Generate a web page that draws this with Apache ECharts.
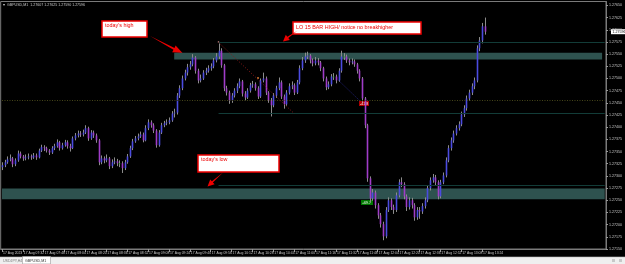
<!DOCTYPE html>
<html><head><meta charset="utf-8">
<script src="https://cdn.jsdelivr.net/npm/echarts@6/dist/echarts.min.js"></script>
<style>html,body{margin:0;padding:0;background:#000;}#c{width:625px;height:264px;}</style>
</head><body><div id="c"></div>
<script>
// ---- data (GBPUSD, M1 chart shown as 2-minute candles) ----
const symbolTitle = 'GBPUSD,M1';
const xTickLabels = ['17 Aug 2023','17 Aug 07:32','17 Aug 07:48','17 Aug 08:04','17 Aug 08:20','17 Aug 08:36','17 Aug 08:52','17 Aug 09:08','17 Aug 09:24','17 Aug 09:40','17 Aug 09:56','17 Aug 10:12','17 Aug 10:28','17 Aug 10:44','17 Aug 11:00','17 Aug 11:16','17 Aug 11:32','17 Aug 11:48','17 Aug 12:04','17 Aug 12:20','17 Aug 12:36','17 Aug 12:52','17 Aug 13:08','17 Aug 13:24'];
const opens = [1.27318,
1.27322,1.27328,1.27334,1.27336,1.27324,1.27332,1.27346,1.27340,1.27336,1.27338,
1.27340,1.27338,1.27342,1.27338,1.27352,1.27359,1.27357,1.27352,1.27348,1.27357,
1.27361,1.27369,1.27357,1.27363,1.27369,1.27361,1.27357,1.27377,1.27383,1.27387,
1.27385,1.27389,1.27398,1.27377,1.27389,1.27383,1.27373,1.27328,1.27336,1.27332,
1.27336,1.27320,1.27328,1.27330,1.27326,1.27326,1.27316,1.27328,1.27340,1.27357,
1.27371,1.27377,1.27381,1.27385,1.27373,1.27398,1.27410,1.27404,1.27393,1.27363,
1.27389,1.27404,1.27408,1.27410,1.27414,1.27428,1.27430,1.27465,1.27480,1.27500,
1.27512,1.27523,1.27529,1.27543,1.27516,1.27496,1.27500,1.27512,1.27516,1.27521,
1.27525,1.27537,1.27545,1.27557,1.27527,1.27480,1.27471,1.27455,1.27465,1.27475,
1.27484,1.27494,1.27469,1.27461,1.27475,1.27486,1.27488,1.27480,1.27463,1.27496,
1.27500,1.27471,1.27455,1.27445,1.27465,1.27480,1.27492,1.27463,1.27447,1.27471,
1.27484,1.27486,1.27471,1.27492,1.27521,1.27537,1.27545,1.27547,1.27537,1.27531,
1.27537,1.27533,1.27521,1.27500,1.27482,1.27488,1.27504,1.27504,1.27496,1.27516,
1.27545,1.27545,1.27537,1.27533,1.27535,1.27529,1.27516,1.27500,1.27459,1.27404,
1.27295,1.27254,1.27266,1.27240,1.27219,1.27201,1.27176,1.27230,1.27250,1.27236,
1.27230,1.27260,1.27287,1.27283,1.27258,1.27236,1.27250,1.27240,1.27215,1.27230,
1.27227,1.27238,1.27250,1.27275,1.27291,1.27297,1.27287,1.27258,1.27287,1.27301,
1.27332,1.27357,1.27373,1.27387,1.27398,1.27406,1.27426,1.27439,1.27459,1.27471,
1.27484,1.27496,1.27562,1.27578,1.27607];
const closes = [
1.27322,1.27328,1.27334,1.27336,1.27324,1.27332,1.27346,1.27340,1.27336,1.27338,
1.27340,1.27338,1.27342,1.27338,1.27352,1.27359,1.27357,1.27352,1.27348,1.27357,
1.27361,1.27369,1.27357,1.27363,1.27369,1.27361,1.27357,1.27377,1.27383,1.27387,
1.27385,1.27389,1.27398,1.27377,1.27389,1.27383,1.27373,1.27328,1.27336,1.27332,
1.27336,1.27320,1.27328,1.27330,1.27326,1.27326,1.27316,1.27328,1.27340,1.27357,
1.27371,1.27377,1.27381,1.27385,1.27373,1.27398,1.27410,1.27404,1.27393,1.27363,
1.27389,1.27404,1.27408,1.27410,1.27414,1.27428,1.27430,1.27465,1.27480,1.27500,
1.27512,1.27523,1.27529,1.27543,1.27516,1.27496,1.27500,1.27512,1.27516,1.27521,
1.27525,1.27537,1.27545,1.27557,1.27527,1.27480,1.27471,1.27455,1.27465,1.27475,
1.27484,1.27494,1.27469,1.27461,1.27475,1.27486,1.27488,1.27480,1.27463,1.27496,
1.27500,1.27471,1.27455,1.27445,1.27465,1.27480,1.27492,1.27463,1.27447,1.27471,
1.27484,1.27486,1.27471,1.27492,1.27521,1.27537,1.27545,1.27547,1.27537,1.27531,
1.27537,1.27533,1.27521,1.27500,1.27482,1.27488,1.27504,1.27504,1.27496,1.27516,
1.27545,1.27545,1.27537,1.27533,1.27535,1.27529,1.27516,1.27500,1.27459,1.27404,
1.27295,1.27254,1.27266,1.27240,1.27219,1.27201,1.27176,1.27230,1.27250,1.27236,
1.27230,1.27260,1.27287,1.27283,1.27258,1.27236,1.27250,1.27240,1.27215,1.27230,
1.27227,1.27238,1.27250,1.27275,1.27291,1.27297,1.27287,1.27258,1.27287,1.27301,
1.27332,1.27357,1.27373,1.27387,1.27398,1.27406,1.27426,1.27439,1.27459,1.27471,
1.27484,1.27496,1.27562,1.27578,1.27607,1.27596];
const highs = [
1.27328,1.27333,1.27340,1.27344,1.27339,1.27336,1.27352,1.27350,1.27343,1.27344,
1.27346,1.27344,1.27347,1.27346,1.27356,1.27364,1.27363,1.27360,1.27355,1.27361,
1.27366,1.27375,1.27372,1.27368,1.27374,1.27373,1.27366,1.27381,1.27388,1.27393,
1.27392,1.27395,1.27404,1.27401,1.27394,1.27393,1.27387,1.27376,1.27342,1.27340,
1.27344,1.27339,1.27334,1.27338,1.27335,1.27332,1.27330,1.27333,1.27345,1.27362,
1.27376,1.27382,1.27387,1.27391,1.27389,1.27404,1.27416,1.27414,1.27408,1.27396,
1.27394,1.27409,1.27413,1.27416,1.27420,1.27433,1.27438,1.27470,1.27486,1.27506,
1.27518,1.27530,1.27536,1.27550,1.27546,1.27520,1.27508,1.27517,1.27522,1.27527,
1.27531,1.27542,1.27552,1.27572,1.27562,1.27530,1.27485,1.27475,1.27470,1.27480,
1.27490,1.27500,1.27497,1.27474,1.27480,1.27491,1.27495,1.27492,1.27484,1.27500,
1.27512,1.27504,1.27474,1.27460,1.27470,1.27485,1.27502,1.27496,1.27467,1.27476,
1.27490,1.27494,1.27490,1.27497,1.27527,1.27544,1.27553,1.27555,1.27550,1.27541,
1.27544,1.27542,1.27536,1.27524,1.27504,1.27494,1.27509,1.27511,1.27508,1.27521,
1.27557,1.27552,1.27549,1.27541,1.27541,1.27539,1.27532,1.27519,1.27503,1.27462,
1.27407,1.27299,1.27273,1.27270,1.27244,1.27224,1.27206,1.27236,1.27256,1.27254,
1.27241,1.27266,1.27293,1.27297,1.27287,1.27262,1.27256,1.27255,1.27244,1.27236,
1.27236,1.27244,1.27256,1.27281,1.27297,1.27304,1.27302,1.27291,1.27292,1.27307,
1.27338,1.27363,1.27379,1.27393,1.27404,1.27412,1.27432,1.27445,1.27465,1.27477,
1.27490,1.27502,1.27568,1.27585,1.27614,1.27625];
const lows = [
1.27312,1.27318,1.27325,1.27330,1.27318,1.27320,1.27329,1.27336,1.27331,1.27332,
1.27334,1.27333,1.27335,1.27333,1.27336,1.27349,1.27351,1.27348,1.27343,1.27345,
1.27353,1.27358,1.27352,1.27354,1.27360,1.27356,1.27350,1.27355,1.27373,1.27379,
1.27380,1.27381,1.27386,1.27372,1.27374,1.27378,1.27368,1.27322,1.27324,1.27326,
1.27328,1.27314,1.27316,1.27324,1.27320,1.27318,1.27306,1.27312,1.27325,1.27337,
1.27353,1.27368,1.27373,1.27378,1.27369,1.27371,1.27394,1.27399,1.27388,1.27358,
1.27360,1.27386,1.27400,1.27404,1.27406,1.27411,1.27420,1.27426,1.27460,1.27476,
1.27496,1.27506,1.27518,1.27525,1.27510,1.27490,1.27492,1.27497,1.27507,1.27512,
1.27516,1.27521,1.27533,1.27540,1.27522,1.27474,1.27465,1.27448,1.27450,1.27461,
1.27470,1.27480,1.27463,1.27455,1.27458,1.27471,1.27481,1.27475,1.27458,1.27460,
1.27492,1.27466,1.27450,1.27422,1.27441,1.27460,1.27476,1.27458,1.27438,1.27444,
1.27467,1.27478,1.27466,1.27468,1.27488,1.27517,1.27532,1.27540,1.27531,1.27525,
1.27527,1.27527,1.27515,1.27494,1.27476,1.27478,1.27484,1.27497,1.27490,1.27493,
1.27512,1.27538,1.27532,1.27527,1.27529,1.27524,1.27510,1.27494,1.27452,1.27398,
1.27288,1.27246,1.27249,1.27233,1.27212,1.27194,1.27168,1.27172,1.27226,1.27230,
1.27222,1.27226,1.27256,1.27277,1.27252,1.27228,1.27231,1.27233,1.27208,1.27210,
1.27212,1.27222,1.27233,1.27246,1.27270,1.27286,1.27281,1.27252,1.27254,1.27283,
1.27297,1.27328,1.27352,1.27368,1.27383,1.27393,1.27402,1.27421,1.27434,1.27454,
1.27466,1.27478,1.27492,1.27556,1.27572,1.27590];
// levels drawn on the chart
const dayHighZone = [1.27539, 1.27553];
const dayLowZone = [1.27252, 1.27274];
const highLine = 1.27574;
const midLine = 1.27428;
const lowLine = 1.27281;
const dottedLevel = 1.27455;
const lastPrice = 1.27596;

// ---- axis categories: 2-minute slots from 07:16, with empty room on the right ----
const totalSlots = 232;
const categories = [];
for (let k = 0; k < totalSlots; k++) {
  const m = 7 * 60 + 16 + 2 * k;
  categories.push(String(Math.floor(m / 60)).padStart(2, '0') + ':' + String(m % 60).padStart(2, '0'));
}
const candleData = closes.map((c, i) => [i, opens[i], c, lows[i], highs[i]]);

const FONT = '"Liberation Sans", Arial, sans-serif';
const chart = echarts.init(document.getElementById('c'), null, {renderer: 'canvas'});
const labelIdx = (idx) => idx % 8 === 0 && idx / 8 < xTickLabels.length;

const option = {
  backgroundColor: '#000',
  animation: false,
  grid: {left: 0.5, right: 15, top: 1.5, bottom: 15, show: true, borderColor: '#7a7a7a', borderWidth: 1, backgroundColor: '#000'},
  xAxis: {
    type: 'category', data: categories, boundaryGap: true,
    axisLine: {show: true, lineStyle: {color: '#7a7a7a'}},
    axisTick: {show: true, interval: (i) => labelIdx(i), alignWithLabel: true, length: 3, lineStyle: {color: '#9a9a9a'}},
    axisLabel: {interval: (i) => labelIdx(i), formatter: (v, i) => labelIdx(i) ? xTickLabels[i / 8] : '',
      align: 'left', margin: 2.5, fontSize: 3.4, color: '#c8c8c8', fontFamily: FONT, padding: [0, 0, 0, 1]},
    splitLine: {show: false}
  },
  yAxis: {
    type: 'value', position: 'right', min: 1.2715, max: 1.27658, interval: 0.00025, scale: true,
    axisLine: {show: true, lineStyle: {color: '#7a7a7a'}},
    axisTick: {show: true, length: 2, lineStyle: {color: '#9a9a9a'}},
    axisLabel: {formatter: (v) => v.toFixed(5), fontSize: 3.6, color: '#c8c8c8', margin: 3, fontFamily: FONT, showMaxLabel: false},
    splitLine: {show: false}
  },
  series: [
    {
      type: 'line', name: 'levels', data: [], z: 1, silent: true,
      markArea: {
        silent: true,
        itemStyle: {color: '#2e524f', opacity: 1},
        data: [
          [{xAxis: categories[66], yAxis: dayHighZone[1]}, {xAxis: categories[230], yAxis: dayHighZone[0]}],
          [{xAxis: categories[0], yAxis: dayLowZone[1]}, {xAxis: categories[231], yAxis: dayLowZone[0]}]
        ]
      },
      markLine: {
        silent: true, symbol: ['none', 'none'], label: {show: false},
        data: [
          [{coord: [categories[83], highLine], lineStyle: {color: '#123c38', width: 1, type: 'solid'}}, {coord: [categories[231], highLine]}],
          [{coord: [categories[83], midLine], lineStyle: {color: '#123c38', width: 1, type: 'solid'}}, {coord: [categories[231], midLine]}],
          [{coord: [categories[83], lowLine], lineStyle: {color: '#123c38', width: 1, type: 'solid'}}, {coord: [categories[231], lowLine]}],
          [{coord: [categories[0], dottedLevel], lineStyle: {color: '#46461a', width: 1, type: [1, 1.5]}}, {coord: [categories[231], dottedLevel]}],
          [{coord: [categories[83], highLine], lineStyle: {color: '#8a1a1a', width: 1, type: [1, 1.8]}}, {coord: [categories[112], midLine]}],
          [{coord: [categories[129], 1.27496], lineStyle: {color: '#2a2a9a', width: 1, type: [1, 1.8]}}, {coord: [categories[137], dottedLevel]}]
        ]
      }
    },
    {
      type: 'custom', name: symbolTitle, z: 3, data: candleData,
      encode: {x: 0, y: [1, 2, 3, 4]},
      renderItem: (params, api) => {
        const i = api.value(0), o = api.value(1), c = api.value(2), l = api.value(3), h = api.value(4);
        const pO = api.coord([i, o]), pC = api.coord([i, c]), pL = api.coord([i, l]), pH = api.coord([i, h]);
        const x = Math.round(pO[0]) + 0.5;
        const top = Math.min(pO[1], pC[1]), bot = Math.max(pO[1], pC[1]);
        const fill = c > o ? '#4b4be0' : (c < o ? '#a03cc8' : '#2a9a2a');
        return {type: 'group', children: [
          {type: 'line', shape: {x1: x, y1: pH[1], x2: x, y2: pL[1]}, style: {stroke: '#8c8c8c', lineWidth: 1}},
          {type: 'rect', shape: {x: x - 0.8, y: top, width: 1.6, height: Math.max(bot - top, 0.9)}, style: {fill: fill}}
        ]};
      }
    }
  ]
};
chart.setOption(option);

// annotations (objects drawn by the trader on the chart)
const lastY = chart.convertToPixel({yAxisIndex: 0}, lastPrice);
const red = '#ee0000';
const txt = (t, x, y, size, color, extra) => Object.assign({type: 'text', silent: true, style: {text: t, x: x, y: y, fill: color, fontSize: size, fontFamily: FONT, align: 'left', verticalAlign: 'top'}}, extra || {});
chart.setOption({
  graphic: [
    // title
    txt('\u25BE  ' + symbolTitle + '  1.27607 1.27625 1.27590 1.27596', 3, 2.8, 3.6, '#c8c8c8'),
    // today's high
    {type: 'rect', silent: true, shape: {x: 102, y: 21, width: 45, height: 16}, style: {fill: '#fff', stroke: red, lineWidth: 1.5}},
    txt("today's high", 105, 23.5, 5.4, red),
    {type: 'polygon', silent: true, shape: {points: [[150, 36], [174.5, 47.9], [175.6, 45.4], [182.5, 53], [172.2, 52.2], [173.5, 49.7]]}, style: {fill: red}},
    // LO 15 bar high
    {type: 'rect', silent: true, shape: {x: 293, y: 22, width: 128, height: 12}, style: {fill: '#fff', stroke: red, lineWidth: 1.5}},
    txt('LO 15 BAR HIGH/ notice no breakhigher', 296, 25.3, 5.4, red),
    {type: 'polygon', silent: true, shape: {points: [[297, 31], [287.3, 36.7], [285.8, 34.7], [283, 41.5], [289.8, 39.9], [288.3, 37.9]]}, style: {fill: red}},
    // today's low
    {type: 'rect', silent: true, shape: {x: 198, y: 155, width: 81, height: 17}, style: {fill: '#fff', stroke: red, lineWidth: 1.5}},
    txt("today's low", 201, 157.5, 5.4, red),
    {type: 'polygon', silent: true, shape: {points: [[223, 172.5], [211.9, 181.3], [210.2, 179.5], [207.5, 186.5], [214.6, 184.3], [212.9, 182.5]]}, style: {fill: red}},
    // small markers
    {type: 'circle', silent: true, shape: {cx: 258, cy: 78, r: 1}, style: {fill: '#d07a30'}},
    {type: 'circle', silent: true, shape: {cx: 218.5, cy: 42, r: 0.8}, style: {fill: '#e0a0a0'}},
    {type: 'circle', silent: true, shape: {cx: 308.5, cy: 57.5, r: 0.9}, style: {fill: '#ffffff'}},
    {type: 'rect', silent: true, shape: {x: 359, y: 101, width: 10, height: 5}, style: {fill: '#b00000'}},
    txt('-41.8', 360, 102, 3.6, '#ffffff'),
    {type: 'rect', silent: true, shape: {x: 361, y: 200, width: 12, height: 5}, style: {fill: '#007800'}},
    txt('+69.7', 362, 201, 3.6, '#ffffff'),
    // current price on the axis
    {type: 'rect', silent: true, shape: {x: 611, y: lastY - 2.5, width: 14, height: 5}, style: {fill: '#ffffff'}},
    txt(lastPrice.toFixed(5), 612.5, lastY - 1.9, 3.6, '#000000'),
    // bottom tab bar
    {type: 'rect', silent: true, shape: {x: 0, y: 257, width: 625, height: 7}, style: {fill: '#efefef'}},
    {type: 'line', silent: true, shape: {x1: 0, y1: 257, x2: 625, y2: 257}, style: {stroke: '#b8b8b8', lineWidth: 0.6}},
    txt('USDJPY,H4', 3, 258.8, 3.6, '#7a7a7a'),
    {type: 'rect', silent: true, shape: {x: 22.5, y: 256.5, width: 28, height: 7.5}, style: {fill: '#ffffff', stroke: '#9a9a9a', lineWidth: 0.6}},
    txt('GBPUSD,M1', 25, 258.8, 3.6, '#303030'),
    {type: 'rect', silent: true, shape: {x: 612, y: 259, width: 3, height: 3}, style: {fill: '#c8c8c8'}},
    {type: 'rect', silent: true, shape: {x: 619, y: 259, width: 3, height: 3}, style: {fill: '#c8c8c8'}}
  ]
});
</script></body></html>
